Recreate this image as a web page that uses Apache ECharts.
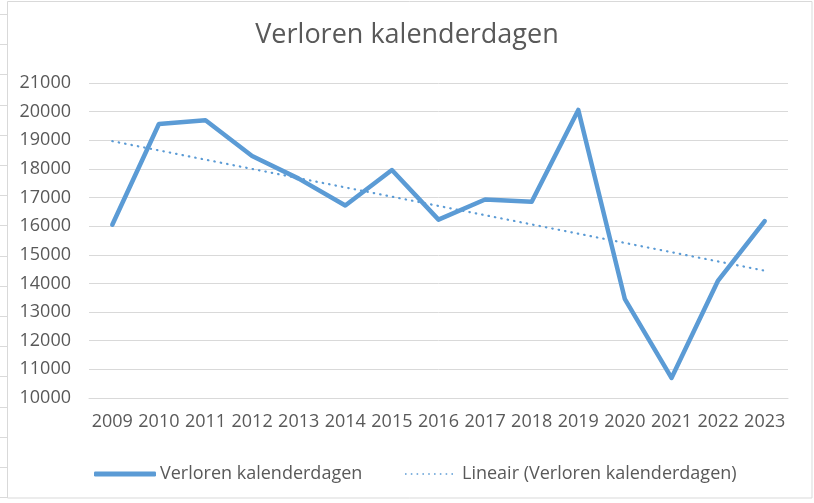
<!DOCTYPE html>
<html><head><meta charset="utf-8">
<script src="https://cdn.jsdelivr.net/npm/echarts@6/dist/echarts.min.js"></script>
<style>html,body{margin:0;padding:0;background:#fff}#c{width:814px;height:503px}</style>
</head><body><div id="c"></div>
<script>
const years = ['2009','2010','2011','2012','2013','2014','2015','2016','2017','2018','2019','2020','2021','2022','2023'];
const values = [16050,19570,19700,18450,17660,16720,17960,16230,16930,16850,20060,13450,10700,14100,16180];
const seriesName = 'Verloren kalenderdagen';
const trendName = 'Lineair (Verloren kalenderdagen)';
const titleText = 'Verloren kalenderdagen';

// least-squares linear trendline (as Excel computes it)
const n = values.length;
const xm = (n - 1) / 2;
const ym = values.reduce((a, b) => a + b, 0) / n;
let sxy = 0, sxx = 0;
values.forEach((v, i) => { sxy += (i - xm) * (v - ym); sxx += (i - xm) * (i - xm); });
const slope = sxy / sxx;
const trend = values.map((v, i) => +(ym + slope * (i - xm)).toFixed(1));

const FONT = 'Open Sans';
const BLUE = '#5B9BD5';
const TXT = '#595959';

// dotted legend icon
let dots = 'path://';
for (let k = 0; k < 9; k++) { const x = k * 6; dots += `M${x},0h1.6v1.6h-${1.6}z`; }

// excel cell grid fragments on the far left
const leftMarks = [];
for (let y = 14; y < 503; y += 30.2) {
  leftMarks.push({type: 'line', shape: {x1: 0, y1: Math.round(y) + 0.5, x2: 7, y2: Math.round(y) + 0.5}, style: {stroke: '#dadada', lineWidth: 1}, silent: true});
}

const chart = echarts.init(document.getElementById('c'), null, {renderer: 'canvas'});
chart.setOption({
  animation: false,
  backgroundColor: '#fff',
  title: {
    text: titleText, left: 'center', top: 17,
    textStyle: {fontFamily: FONT, fontSize: 27, fontWeight: 'normal', color: TXT}
  },
  grid: {left: 89, right: 26, top: 83, bottom: 105, containLabel: false},
  legend: [
    {
      left: 89, top: 460, itemWidth: 62, itemHeight: 5, icon: 'roundRect',
      textStyle: {fontFamily: FONT, fontSize: 18, color: TXT, padding: [0, 0, 0, -1]},
      data: [seriesName]
    },
    {
      left: 400, top: 460, itemWidth: 48, itemHeight: 1.6, icon: dots,
      textStyle: {fontFamily: FONT, fontSize: 18, color: TXT, padding: [0, 0, 0, 4]},
      data: [trendName]
    }
  ],
  xAxis: {
    type: 'category', data: years, boundaryGap: true,
    axisLine: {lineStyle: {color: '#d9d9d9', width: 1}},
    axisTick: {show: false},
    axisLabel: {fontFamily: FONT, fontSize: 18, color: TXT, margin: 15, interval: 0}
  },
  yAxis: {
    type: 'value', min: 10000, max: 21000, interval: 1000,
    axisLine: {show: false}, axisTick: {show: false},
    splitLine: {lineStyle: {color: '#d9d9d9', width: 1}},
    axisLabel: {fontFamily: FONT, fontSize: 18, color: TXT, margin: 18, formatter: v => String(v)}
  },
  series: [
    {
      name: seriesName, type: 'line', data: values, symbol: 'none',
      lineStyle: {color: BLUE, width: 4.5, join: 'round', cap: 'round'},
      itemStyle: {color: BLUE}, z: 3
    },
    {
      name: trendName, type: 'line', data: trend, symbol: 'none',
      lineStyle: {color: BLUE, width: 2.2, type: [0.5, 6], cap: 'round'},
      itemStyle: {color: BLUE}, z: 2
    }
  ],
  graphic: [
    {type: 'rect', shape: {x: 7.5, y: 1.5, width: 804.5, height: 496.5}, style: {fill: 'none', stroke: '#d9d9d9', lineWidth: 1}, silent: true}
  ].concat(leftMarks)
});
</script></body></html>
